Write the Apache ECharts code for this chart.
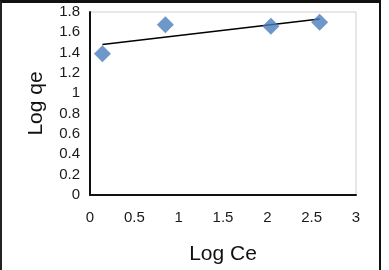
<!DOCTYPE html>
<html>
<head>
<meta charset="utf-8">
<script src="https://cdn.jsdelivr.net/npm/echarts@6/dist/echarts.min.js"></script>
<style>
  html, body { margin: 0; padding: 0; background: #fff; }
  #frame { position: absolute; left: 0; top: 0; width: 381px; height: 290px; border-left: 2px solid #222; border-top: 3px solid #111; border-right: 2px solid #111; box-sizing: border-box; }
  #chart { position: absolute; left: 0; top: 0; width: 389px; height: 270px; }
</style>
</head>
<body>
<div id="frame"></div>
<div id="chart"></div>
<script>
// log Ce vs log qe
var logCe = [0.14, 0.85, 2.04, 2.59];
var logQe = [1.39, 1.675, 1.66, 1.70];
// linear fit line ends
var trendX = [0.14, 2.59];
var trendY = [1.48, 1.73];
var xTicks = [0, 0.5, 1, 1.5, 2, 2.5, 3];
var yTicks = [0, 0.2, 0.4, 0.6, 0.8, 1, 1.2, 1.4, 1.6, 1.8];

var chart = echarts.init(document.getElementById('chart'), null, { renderer: 'canvas' });

var points = logCe.map(function (x, i) { return [x, logQe[i]]; });
var trend = trendX.map(function (x, i) { return [x, trendY[i]]; });

var option = {
  animation: false,
  backgroundColor: 'transparent',
  grid: {
    left: 90,
    top: 12,
    width: 266,
    height: 192,
    show: true,
    borderColor: '#cfcfcf',
    borderWidth: 1,
    backgroundColor: '#fff'
  },
  xAxis: {
    type: 'value',
    min: xTicks[0],
    max: xTicks[xTicks.length - 1],
    interval: 0.5,
    name: 'Log Ce',
    nameLocation: 'middle',
    nameGap: 49,
    nameTextStyle: { fontFamily: 'Liberation Sans', fontSize: 21, color: '#111' },
    axisLine: { show: true, onZero: false, lineStyle: { color: '#111', width: 2 } },
    axisTick: { show: false },
    splitLine: { show: false },
    axisLabel: {
      margin: 15,
      fontFamily: 'Liberation Sans',
      fontSize: 15,
      color: '#1a1a1a',
      formatter: function (v) { return String(v); }
    }
  },
  yAxis: {
    type: 'value',
    min: yTicks[0],
    max: yTicks[yTicks.length - 1],
    interval: 0.2,
    name: 'Log qe',
    nameLocation: 'middle',
    nameGap: 43,
    nameRotate: 90,
    nameTextStyle: { fontFamily: 'Liberation Sans', fontSize: 21, color: '#111' },
    axisLine: { show: true, onZero: false, lineStyle: { color: '#111', width: 2 } },
    axisTick: { show: false },
    splitLine: { show: false },
    axisLabel: {
      margin: 10,
      fontFamily: 'Liberation Sans',
      fontSize: 15,
      color: '#1a1a1a',
      formatter: function (v) { return String(Math.round(v * 10) / 10); }
    }
  },
  series: [
    {
      type: 'line',
      data: trend,
      symbol: 'none',
      lineStyle: { color: '#000', width: 1.5 },
      z: 2
    },
    {
      type: 'scatter',
      data: points,
      symbol: 'diamond',
      symbolSize: [17, 17],
      itemStyle: { color: '#4a7ebb' },
      z: 3
    }
  ]
};

chart.setOption(option);
</script>
</body>
</html>
